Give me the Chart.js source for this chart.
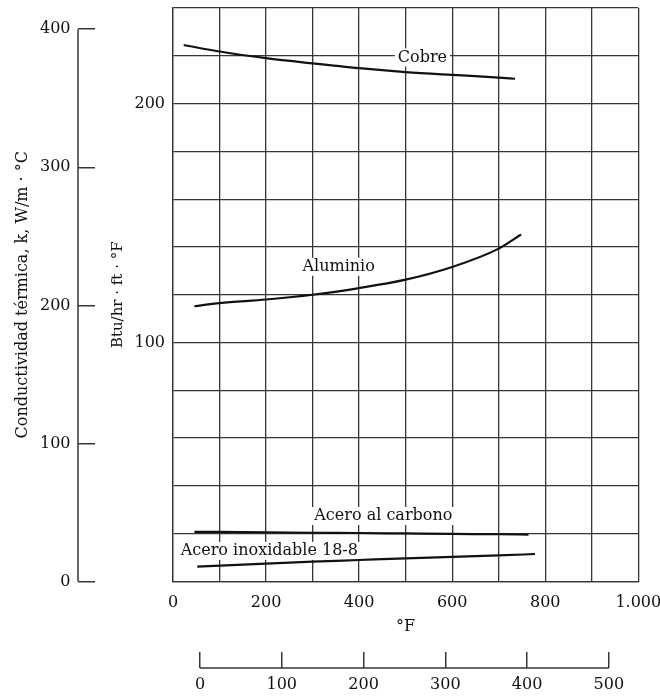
<!DOCTYPE html>
<html>
<head>
<meta charset="utf-8">
<script src="https://cdn.jsdelivr.net/npm/chart.js@4.4.1/dist/chart.umd.min.js"></script>
<style>
  html, body { margin: 0; padding: 0; background: #ffffff; }
  #wrap { width: 660px; height: 696px; }
</style>
</head>
<body>
<div id="wrap"><canvas id="chart"></canvas></div>
<script>
// Thermal conductivity of some metals, Btu/hr·ft·°F against temperature in °F
const cobreF    = [23, 100, 200, 300, 400, 500, 600, 700, 735];
const cobreK    = [224.5, 221.8, 219.0, 216.8, 214.8, 213.2, 212.0, 210.9, 210.4];
const aluminioF = [46, 100, 200, 300, 400, 500, 600, 700, 748];
const aluminioK = [115.2, 116.5, 118.0, 120.0, 122.8, 126.3, 131.6, 139.3, 145.2];
const carbonoF  = [46, 200, 300, 400, 500, 600, 700, 764];
const carbonoK  = [20.8, 20.6, 20.4, 20.3, 20.1, 19.9, 19.8, 19.6];
const inoxF     = [52, 200, 300, 400, 500, 600, 700, 778];
const inoxK     = [6.2, 7.5, 8.3, 9.0, 9.7, 10.3, 10.9, 11.5];

// Curve names and where they are written (°F, Btu/hr·ft·°F)
const curveLabels = ['Cobre', 'Aluminio', 'Acero al carbono', 'Acero inoxidable 18-8'];
const curveLabelF = [536, 356, 452, 207];
const curveLabelK = [219.3, 131.7, 27.4, 12.8];

// Axis ticks and their printed labels
const fahrenheitTicks  = [0, 100, 200, 300, 400, 500, 600, 700, 800, 900, 1000];
const fahrenheitLabels = ['0', '', '200', '', '400', '', '600', '', '800', '', '1.000'];
const btuTicks  = [0, 20, 40, 60, 80, 100, 120, 140, 160, 180, 200, 220, 240];
const btuLabels = ['', '', '', '', '', '100', '', '', '', '', '200', '', ''];
const wattTicks  = [0, 100, 200, 300, 400];
const wattLabels = ['0', '100', '200', '300', '400'];
const celsiusTicks  = [0, 100, 200, 300, 400, 500];
const celsiusLabels = ['0', '100', '200', '300', '400', '500'];

// Scale ranges
const BTU_MAX = 240;
const WATT_PER_BTU = 1.7307;          // 1 Btu/hr·ft·°F = 1.7307 W/m·°C
const CELSIUS_MIN = -33;
const CELSIUS_MAX = 536;

const ink = '#111111';
const gridInk = '#363636';
const serif = '"DejaVu Serif", "Liberation Serif", serif';
const tickFont = { family: serif, size: 16, lineHeight: 1 };

const zeroPadding = s => { s.paddingLeft = 0; s.paddingRight = 0; s.paddingTop = 0; s.paddingBottom = 0; };

function series(xs, ys) { return xs.map((v, i) => ({ x: v, y: ys[i] })); }

const curveStyle = {
  borderColor: '#111111', borderWidth: 2.2, pointRadius: 0, fill: false,
  tension: 0.4, cubicInterpolationMode: 'monotone', xAxisID: 'x', yAxisID: 'y'
};

// Curve names on small white patches, plus the free-standing W/m·°C and °C axis lines
const decorations = {
  id: 'decorations',
  beforeDatasetsDraw(chart) {
    const { ctx, scales: { x, y } } = chart;
    ctx.save();
    ctx.font = '16px ' + serif;
    ctx.textAlign = 'center';
    ctx.textBaseline = 'middle';
    curveLabels.forEach((t, i) => {
      const px = x.getPixelForValue(curveLabelF[i]);
      const py = y.getPixelForValue(curveLabelK[i]);
      const w = ctx.measureText(t).width;
      ctx.fillStyle = '#ffffff';
      ctx.fillRect(px - w / 2 - 3, py - 9, w + 6, 18);
      ctx.fillStyle = ink;
      ctx.fillText(t, px, py);
    });
    ctx.restore();
  },
  afterDraw(chart) {
    const { ctx, scales: { yW, xC } } = chart;
    ctx.save();
    ctx.strokeStyle = gridInk;
    ctx.lineWidth = 1.5;
    ctx.beginPath();
    ctx.moveTo(yW.right, yW.getPixelForValue(wattTicks[0]));
    ctx.lineTo(yW.right, yW.getPixelForValue(wattTicks[wattTicks.length - 1]));
    ctx.moveTo(xC.getPixelForValue(celsiusTicks[0]), xC.top);
    ctx.lineTo(xC.getPixelForValue(celsiusTicks[celsiusTicks.length - 1]), xC.top);
    ctx.stroke();
    ctx.restore();
  }
};

new Chart(document.getElementById('chart'), {
  type: 'line',
  data: {
    datasets: [
      Object.assign({ label: 'Cobre', data: series(cobreF, cobreK) }, curveStyle),
      Object.assign({ label: 'Aluminio', data: series(aluminioF, aluminioK) }, curveStyle),
      Object.assign({ label: 'Acero al carbono', data: series(carbonoF, carbonoK) }, curveStyle),
      Object.assign({ label: 'Acero inoxidable 18-8', data: series(inoxF, inoxK) }, curveStyle)
    ]
  },
  options: {
    responsive: true,
    maintainAspectRatio: false,
    devicePixelRatio: 1,
    animation: false,
    events: [],
    layout: { padding: { top: 8, right: 21.7, bottom: 0, left: 0 } },
    plugins: { legend: { display: false }, tooltip: { enabled: false } },
    scales: {
      x: {
        type: 'linear', axis: 'x', position: 'bottom', weight: 0,
        min: 0, max: 1000,
        afterBuildTicks: s => { s.ticks = fahrenheitTicks.map(v => ({ value: v })); },
        afterFit: s => { s.height = 86.5; zeroPadding(s); },
        grid: { color: gridInk, lineWidth: 1.3, drawTicks: false },
        border: { color: gridInk, width: 1.3 },
        ticks: { padding: 13.5, font: tickFont, color: ink, autoSkip: false, maxRotation: 0,
                 callback: (v, i) => fahrenheitLabels[i] },
        title: { display: true, text: '°F', color: ink, font: { family: serif, size: 16 },
                 padding: { top: 0, bottom: 32 } }
      },
      xC: {
        type: 'linear', axis: 'x', position: 'bottom', weight: 1,
        min: CELSIUS_MIN, max: CELSIUS_MAX,
        afterBuildTicks: s => { s.ticks = celsiusTicks.map(v => ({ value: v })); },
        afterFit: s => { s.height = 28; zeroPadding(s); },
        grid: { drawOnChartArea: false, drawTicks: true, tickLength: -16, color: gridInk, lineWidth: 1.5 },
        border: { display: false },
        ticks: { padding: 25, font: tickFont, color: ink, autoSkip: false, maxRotation: 0,
                 callback: (v, i) => celsiusLabels[i] }
      },
      y: {
        type: 'linear', axis: 'y', position: 'left', weight: 0,
        min: 0, max: BTU_MAX,
        afterBuildTicks: s => { s.ticks = btuTicks.map(v => ({ value: v })); },
        afterFit: s => { s.width = 95; zeroPadding(s); },
        grid: { color: gridInk, lineWidth: 1.3, drawTicks: false },
        border: { color: gridInk, width: 1.3 },
        ticks: { padding: 8, font: tickFont, color: ink, autoSkip: false,
                 callback: (v, i) => btuLabels[i] },
        title: { display: true, text: 'Btu/hr · ft · °F', color: ink, font: { family: serif, size: 15 },
                 padding: { top: 31, bottom: 0 } }
      },
      yW: {
        type: 'linear', axis: 'y', position: 'left', weight: 1,
        min: 0, max: BTU_MAX * WATT_PER_BTU,
        afterBuildTicks: s => { s.ticks = wattTicks.map(v => ({ value: v })); },
        afterFit: s => { s.width = 78; zeroPadding(s); },
        grid: { drawOnChartArea: false, drawTicks: true, tickLength: -17, color: gridInk, lineWidth: 1.5 },
        border: { display: false },
        ticks: { padding: 24.5, font: tickFont, color: ink, autoSkip: false,
                 callback: (v, i) => wattLabels[i] },
        title: { display: true, text: 'Conductividad térmica, k, W/m · °C', color: ink,
                 font: { family: serif, size: 16 }, padding: { top: 13.4, bottom: 0 } }
      }
    }
  },
  plugins: [decorations]
});
</script>
</body>
</html>
